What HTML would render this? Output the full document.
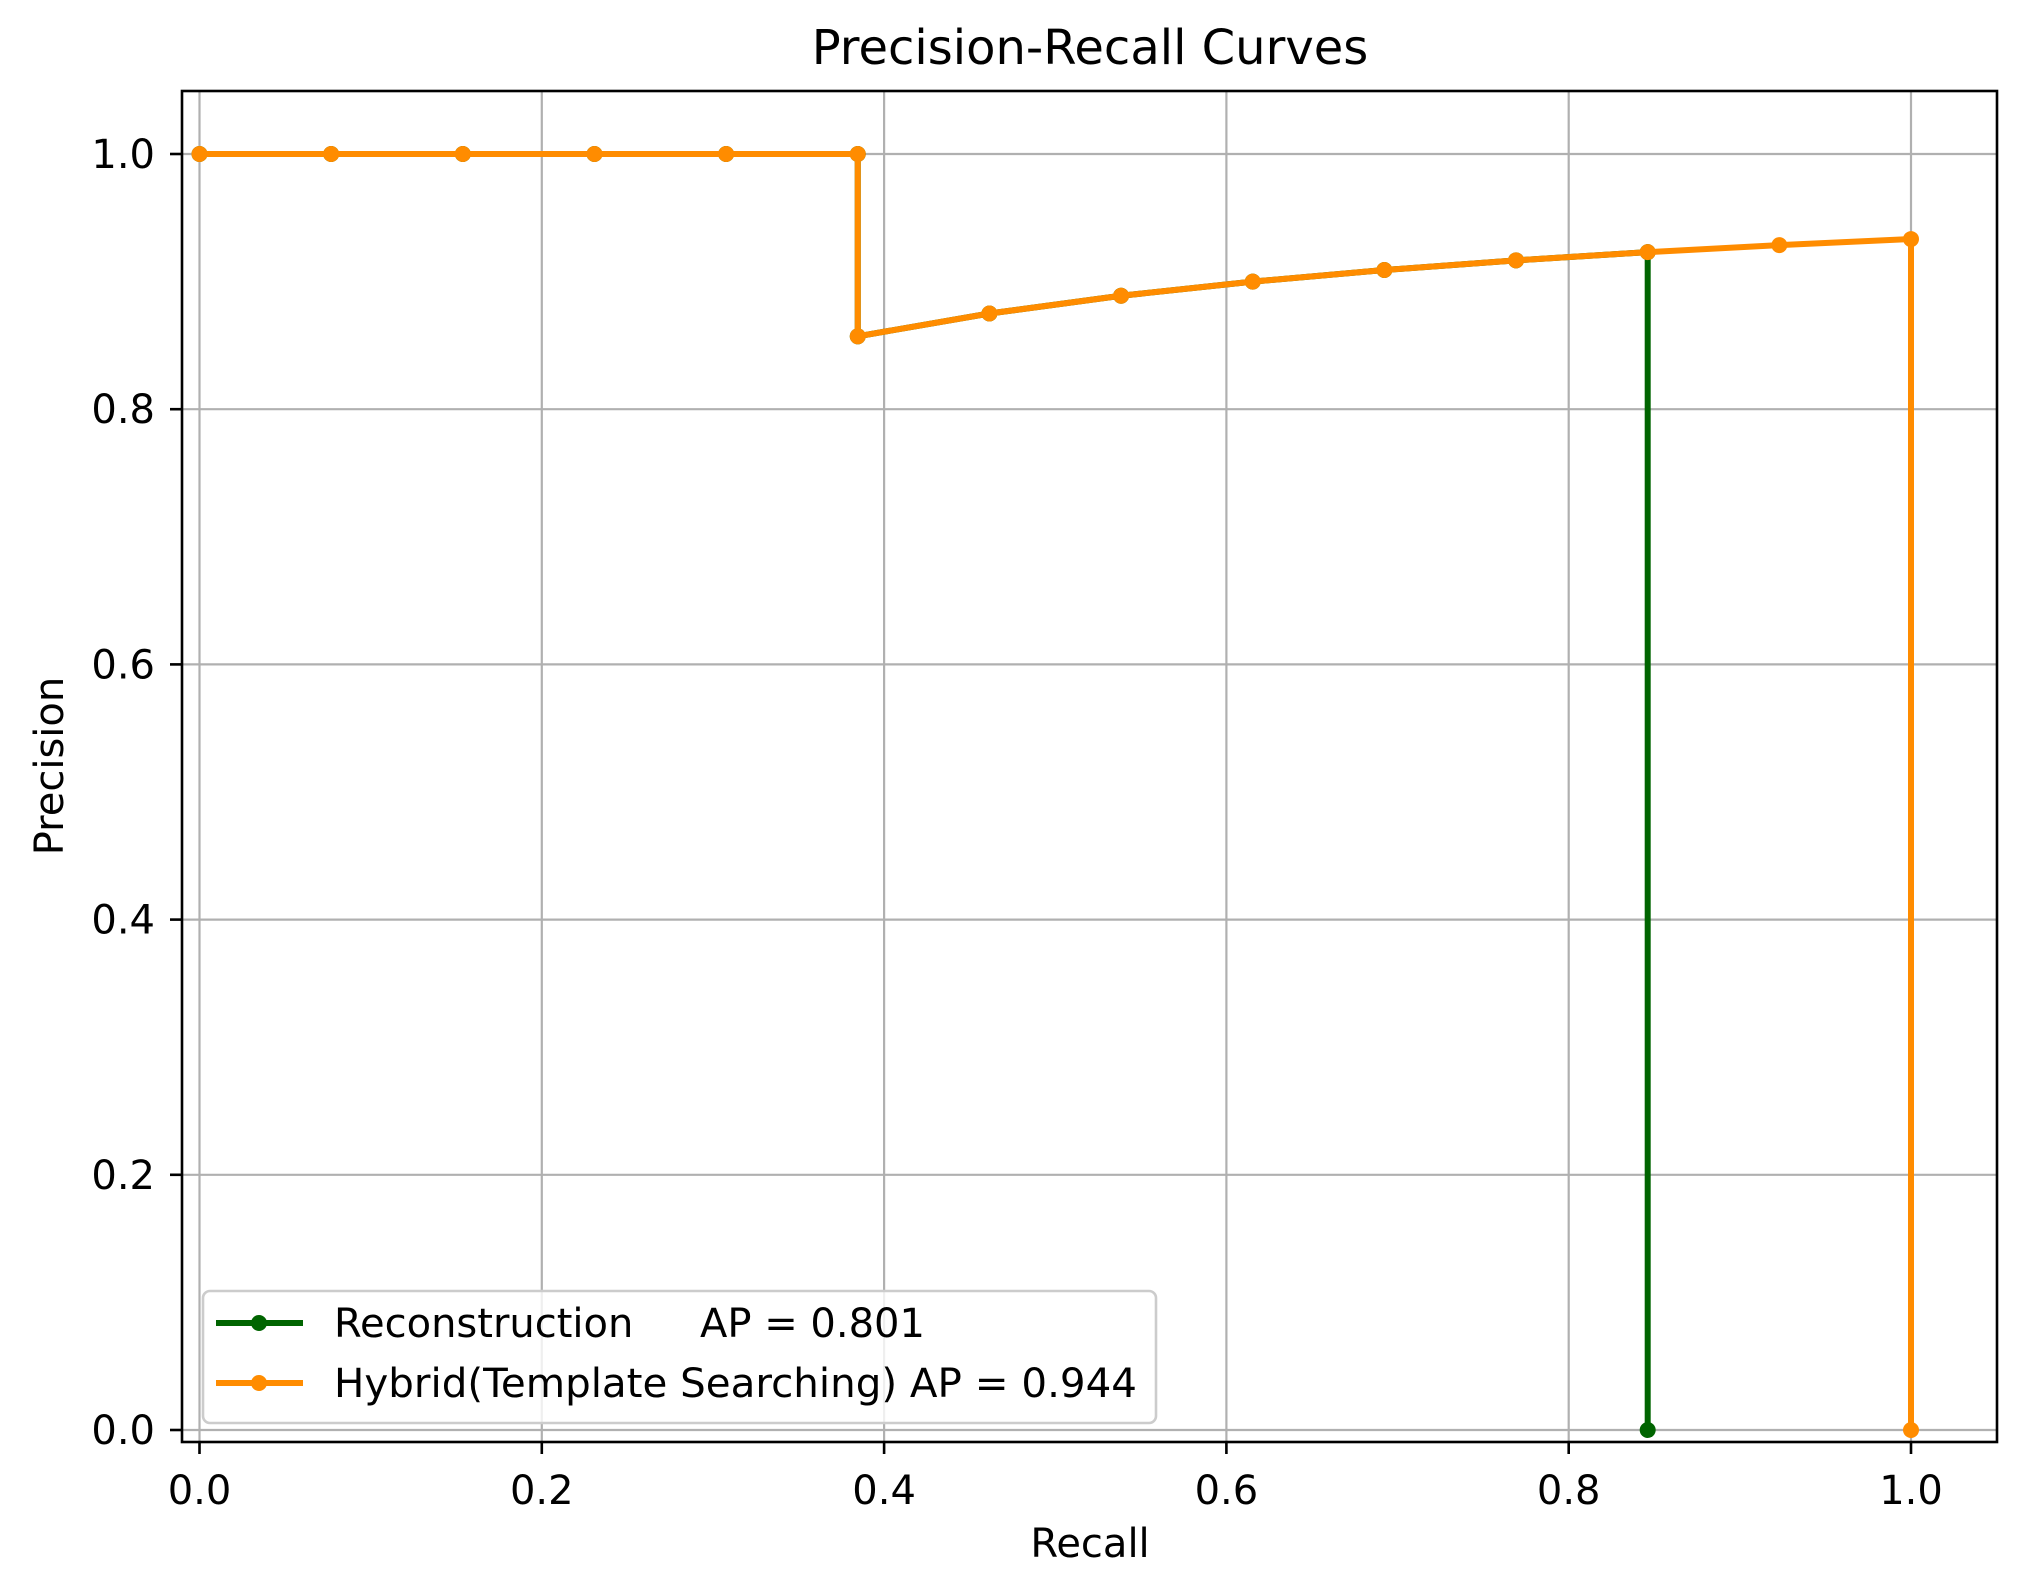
<!DOCTYPE html>
<html><head><meta charset="utf-8"><style>
html,body{margin:0;padding:0;background:#fff;}
svg{display:block;font-family:"DejaVu Sans","Liberation Sans",sans-serif;}
</style></head><body>
<svg id="s" width="2026" height="1582" viewBox="0 0 2026 1582" xmlns="http://www.w3.org/2000/svg">
<rect width="2026" height="1582" fill="#fff"/>
<g id="grid"></g>
<g id="series"></g>
<rect x="182" y="91" width="1815" height="1351" fill="none" stroke="#000" stroke-width="2.6"/>
<g id="ticks"></g>
<text x="1090" y="64" font-size="48" text-anchor="middle">Precision-Recall Curves</text>
<text x="1090" y="1557" font-size="40" text-anchor="middle">Recall</text>
<text transform="translate(63,766) rotate(-90)" font-size="40" text-anchor="middle">Precision</text>
<g id="legend">
<rect x="203" y="1291" width="953" height="132" rx="7" fill="#fff" fill-opacity="0.8" stroke="#ccc" stroke-width="2.6"/>
<line x1="216" y1="1323" x2="303" y2="1323" stroke="#006400" stroke-width="6"/>
<circle cx="259" cy="1323" r="8" fill="#006400"/>
<text x="334" y="1337" font-size="40">Reconstruction</text>
<text x="700" y="1337" font-size="40">AP = 0.801</text>
<line x1="216" y1="1383" x2="303" y2="1383" stroke="#ff8c00" stroke-width="6"/>
<circle cx="259" cy="1383" r="8" fill="#ff8c00"/>
<text x="334" y="1397" font-size="40" textLength="803" lengthAdjust="spacingAndGlyphs">Hybrid(Template Searching) AP = 0.944</text>
</g>
</svg>
<script>
var NS="http://www.w3.org/2000/svg";
function X(v){return 199.5+v*1711.5;}
function Y(v){return 1430-v*1276;}
function el(p,t,a,txt){var e=document.createElementNS(NS,t);for(var k in a)e.setAttribute(k,a[k]);if(txt!=null)e.textContent=txt;document.getElementById(p).appendChild(e);return e;}
var tv=[0,0.2,0.4,0.6,0.8,1.0];
tv.forEach(function(v){
 el("grid","line",{x1:X(v),x2:X(v),y1:91,y2:1442,stroke:"#b0b0b0","stroke-width":2.2});
 el("grid","line",{x1:182,x2:1997,y1:Y(v),y2:Y(v),stroke:"#b0b0b0","stroke-width":2.2});
 el("ticks","line",{x1:X(v),x2:X(v),y1:1442,y2:1454,stroke:"#000","stroke-width":2.6});
 el("ticks","line",{x1:170,x2:182,y1:Y(v),y2:Y(v),stroke:"#000","stroke-width":2.6});
 el("ticks","text",{x:X(v),y:1504,"font-size":40,"text-anchor":"middle"},v.toFixed(1));
 el("ticks","text",{x:155,y:Y(v)+14,"font-size":40,"text-anchor":"end"},v.toFixed(1));
});
var base=[[0,1],[1,1],[2,1],[3,1],[4,1],[5,1],[5,6/7],[6,7/8],[7,8/9],[8,9/10],[9,10/11],[10,11/12],[11,12/13]];
var rec=base.concat([[11,0]]);
var hyb=base.concat([[12,13/14],[13,14/15],[13,0]]);
function draw(pts,c){
 var d=pts.map(function(p,i){return (i?"L":"M")+X(p[0]/13)+","+Y(p[1]);}).join(" ");
 el("series","path",{d:d,fill:"none",stroke:c,"stroke-width":6,"stroke-linejoin":"round"});
 pts.forEach(function(p){el("series","circle",{cx:X(p[0]/13),cy:Y(p[1]),r:8,fill:c});});
}
draw(rec,"#006400");
draw(hyb,"#ff8c00");
</script>
</body></html>
